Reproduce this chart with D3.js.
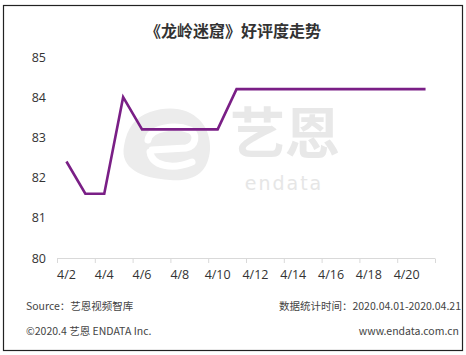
<!DOCTYPE html>
<html><head><meta charset="utf-8">
<script src="https://cdn.jsdelivr.net/npm/d3@7"></script>
<style>
html,body{margin:0;padding:0;background:#fff;}
svg{display:block;}
</style></head>
<body>
<svg id="chart" width="466" height="355"></svg>
<script>
const title = "《龙岭迷窟》好评度走势";
const dates = ["4/2","4/3","4/4","4/5","4/6","4/7","4/8","4/9","4/10","4/11","4/12","4/13","4/14","4/15","4/16","4/17","4/18","4/19","4/20","4/21"];
const scores = [82.4,81.6,81.6,84.0,83.2,83.2,83.2,83.2,83.2,84.2,84.2,84.2,84.2,84.2,84.2,84.2,84.2,84.2,84.2,84.2];
const yTicks = [80,81,82,83,84,85];
const xTickLabels = ["4/2","4/4","4/6","4/8","4/10","4/12","4/14","4/16","4/18","4/20"];
const sourceText = "Source：艺恩视频智库";
const periodText = "数据统计时间：2020.04.01-2020.04.21";
const copyText = "©2020.4 艺恩 ENDATA Inc.";
const siteText = "www.endata.com.cn";

const svg = d3.select("#chart");
const font = "'Noto Sans CJK SC','Noto Sans',sans-serif";

// frame
svg.append("rect").attr("x",3.5).attr("y",5.5).attr("width",459).attr("height",345)
  .attr("fill","#fff").attr("stroke","#222").attr("stroke-width",1.2);

const x = d3.scaleBand().domain(dates).range([57,435]);
const y = d3.scaleLinear().domain([80,85]).range([258,57]);

// watermark
const wm = svg.append("g");
wm.append("path")
  .attr("d","M150,112 C185,100 212,120 210,150 C208,172 195,182 170,180 C140,178 120,168 124,146 C127,128 135,117 150,112 Z")
  .attr("fill","#ececec");
wm.append("path")
  .attr("d","M148,140 C150,128 175,124 190,130 C198,134 196,146 186,148 L152,150 M150,152 C152,166 172,170 192,162")
  .attr("fill","none").attr("stroke","#fff").attr("stroke-width",7).attr("stroke-linecap","round");
wm.append("text").attr("x",285).attr("y",153).attr("text-anchor","middle")
  .attr("font-family",font).attr("font-weight","bold").attr("font-size",55).attr("fill","#e8e8e8").text("艺恩");
wm.append("text").attr("x",284).attr("y",190).attr("text-anchor","middle")
  .attr("font-family","'DejaVu Sans',sans-serif").attr("font-size",19).attr("fill","#e6e6e6")
  .attr("letter-spacing",2).text("endata");

// title
svg.append("text").attr("x",233).attr("y",37).attr("text-anchor","middle")
  .attr("font-family",font).attr("font-weight","bold").attr("font-size",16).attr("fill","#333")
  .text(title);

// y axis labels
const yAxis = d3.axisLeft(y).tickValues(yTicks).tickFormat(d3.format("d")).tickSize(0).tickPadding(0);
const gy = svg.append("g").attr("transform","translate(46,0)").call(yAxis);
gy.select(".domain").remove();
gy.selectAll("text").attr("font-family","'Open Sans',sans-serif").attr("font-size",12.5).attr("fill","#333");

// x axis
const xTickPos = d3.range(0, dates.length+1, 2).map(i => 57 + i * x.step());
const gx = svg.append("g");
gx.append("line").attr("x1",57).attr("x2",435).attr("y1",258.5).attr("y2",258.5)
  .attr("stroke","#d9d9d9").attr("stroke-width",1);
gx.selectAll("line.tk").data(xTickPos).join("line").attr("class","tk")
  .attr("x1",d=>d+0.5).attr("x2",d=>d+0.5).attr("y1",258.5).attr("y2",263)
  .attr("stroke","#d9d9d9");
gx.selectAll("text").data(xTickLabels).join("text")
  .attr("x",d=>x(d)+x.bandwidth()/2).attr("y",279).attr("text-anchor","middle")
  .attr("font-family","'Open Sans',sans-serif").attr("font-size",12.5).attr("fill","#333")
  .text(d=>d);

// line
const line = d3.line().x((d,i)=>x(dates[i])+x.bandwidth()/2).y(d=>y(d));
svg.append("path").datum(scores).attr("d",line).attr("fill","none")
  .attr("stroke","#7a1f86").attr("stroke-width",2.6).attr("stroke-linejoin","miter");

// footer
const ft = (t,xx,yy,anchor)=>svg.append("text").attr("x",xx).attr("y",yy).attr("text-anchor",anchor)
  .attr("font-family",font).attr("font-size",10.5).attr("fill","#444").text(t);
ft(sourceText,26,310,"start");
ft(periodText,461,310,"end");
ft(copyText,26,335,"start");
ft(siteText,459,335,"end");
</script>
</body></html>
